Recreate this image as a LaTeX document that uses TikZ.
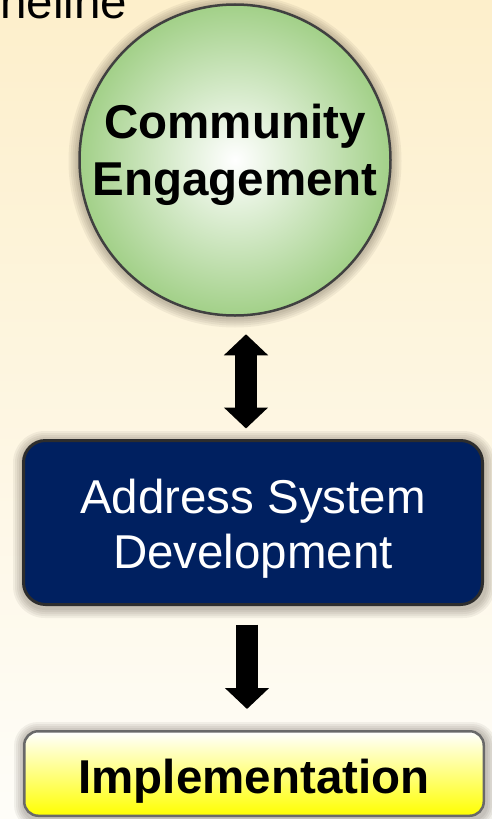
\documentclass[tikz,border=0pt]{standalone}
\usepackage{fontspec}
\setmainfont{Liberation Sans}
\usetikzlibrary{arrows.meta}
\definecolor{bgtop}{RGB}{253,239,203}
\definecolor{bgmid}{RGB}{253,248,235}
\definecolor{bgbot}{RGB}{254,253,248}
\definecolor{circgreen}{RGB}{162,208,136}
\definecolor{circborder}{RGB}{64,64,64}
\definecolor{navy}{RGB}{0,32,96}
\definecolor{navyborder}{RGB}{45,45,45}
\definecolor{yelborder}{RGB}{105,105,105}
\pgfdeclarelayer{back}
\pgfdeclarelayer{shadow}
\pgfsetlayers{back,shadow,main}
\tikzset{
  bigfont/.style={font=\fontsize{47.5}{55}\selectfont},
  boldfont/.style={font=\bfseries\fontsize{47.5}{57}\selectfont},
  shadowlayer/.style={fill=black!85!brown,opacity=0.055},
  circlenode/.style={circle,minimum size=311pt,line width=2.5pt,draw=circborder,inner color=white,outer color=circgreen,boldfont,align=center,inner sep=0pt},
  bluebox/.style={rectangle,rounded corners=22pt,minimum width=459pt,minimum height=164pt,line width=3pt,draw=navyborder,fill=navy,text=white,bigfont,align=center,inner sep=0pt},
  yellowbox/.style={rectangle,rounded corners=14pt,minimum width=459.5pt,minimum height=84.5pt,line width=2.5pt,draw=yelborder,top color=white,bottom color=yellow,boldfont,align=center,inner sep=0pt},
  blockarrow/.style={line width=22pt,draw=black},
  bigtip/.tip={Triangle[width=43pt,length=21pt]}
}
\begin{document}
\begin{tikzpicture}[x=1pt,y=-1pt]
\useasboundingbox (0,0) rectangle (492,819);
\clip (0,0) rectangle (492,819);
\begin{pgfonlayer}{back}
\fill[top color=bgtop,middle color=bgmid,bottom color=bgbot] (0,0) rectangle (492,819);
\end{pgfonlayer}
\node[bigfont,anchor=base west,inner sep=0pt] (title) at (0,18) {neline};
\node[circlenode] (ce) at (235,160) {Community\\Engagement\rule[-21pt]{0pt}{0pt}};
\node[bluebox] (asd) at (253,522.5) {\rule{0pt}{46pt}Address System\\Development};
\node[yellowbox] (impl) at (254,773.5) {\rule{0pt}{49pt}Implementation};
\begin{pgfonlayer}{shadow}
\foreach \d in {2,4,6,8,10}{
  \fill[shadowlayer] ([yshift=-1pt]ce.center) circle[radius=156.5pt+\d pt];
  \fill[shadowlayer,rounded corners=22pt+\d pt] ([xshift=-\d pt+1pt,yshift=-\d pt-2pt]asd.south west) rectangle ([xshift=\d pt+1pt,yshift=\d pt-2pt]asd.north east);
  \fill[shadowlayer,rounded corners=14pt+\d pt] ([xshift=-\d pt+1pt,yshift=-\d pt-2pt]impl.south west) rectangle ([xshift=\d pt+1pt,yshift=\d pt-2pt]impl.north east);
}
\end{pgfonlayer}
\coordinate (ax1) at (246,0);
\coordinate (ax2) at (247,0);
\draw[blockarrow,bigtip-bigtip,shorten <=17.5pt,shorten >=10.5pt] (ce.south -| ax1) -- (asd.north -| ax1);
\draw[blockarrow,-bigtip,shorten <=18.5pt,shorten >=21pt] (asd.south -| ax2) -- (impl.north -| ax2);
\end{tikzpicture}
\end{document}
